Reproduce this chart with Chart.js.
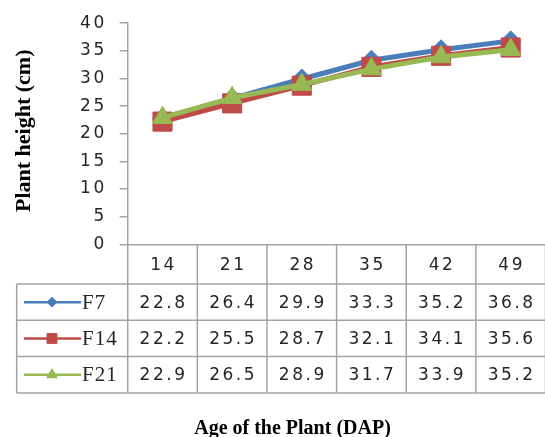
<!DOCTYPE html>
<html>
<head>
<meta charset="utf-8">
<script src="https://cdn.jsdelivr.net/npm/chart.js@4.4.1/dist/chart.umd.min.js"></script>
<style>
  html,body{margin:0;padding:0;background:#fff;overflow:hidden}
  #wrap{position:relative;width:560px;height:437px}
</style>
</head>
<body>
<div id="wrap"><canvas id="plantChart"></canvas></div>
<script>
// data (table under the plot)
const days = ["14","21","28","35","42","49"];
const seriesNames = ["F7","F14","F21"];
const f7  = [22.8,26.4,29.9,33.3,35.2,36.8];
const f14 = [22.2,25.5,28.7,32.1,34.1,35.6];
const f21 = [22.9,26.5,28.9,31.7,33.9,35.2];
const yMin = 0, yMax = 40, yStep = 5;

const GRID = "#a3a3a3";
const INK = "#262626";
const NUM_FONT = "17px 'DejaVu Sans'";
const NUM_SPACING = "2.5px";

// data table + titles drawn under the plot, aligned to the x scale
const dataTable = {
  id: "dataTable",
  beforeDraw(chart){ chart.ctx.letterSpacing = NUM_SPACING; },
  afterDraw(chart){
    const ctx = chart.ctx, a = chart.chartArea, x = chart.scales.x;
    const half = (x.getPixelForValue(1) - x.getPixelForValue(0)) / 2;
    const top = a.bottom, headBot = top + 39.7, rowH = 36.3, left = 16.7;
    const rows = chart.data.datasets;
    const bottom = headBot + rowH * rows.length;

    ctx.save();
    ctx.strokeStyle = GRID; ctx.lineWidth = 1.5;
    ctx.beginPath();
    for (let r = 0; r <= rows.length; r++){
      const y = headBot + r*rowH;
      ctx.moveTo(left, y); ctx.lineTo(chart.width, y);
    }
    ctx.moveTo(left, headBot); ctx.lineTo(left, bottom);
    days.forEach((d,i)=>{
      const xb = x.getPixelForValue(i) - half;
      ctx.moveTo(xb, top); ctx.lineTo(xb, bottom);
      if (i === days.length-1){ ctx.moveTo(xb+2*half, top); ctx.lineTo(xb+2*half, bottom); }
    });
    ctx.stroke();

    // header + values
    ctx.fillStyle = INK; ctx.font = NUM_FONT;
    ctx.textAlign = "center"; ctx.textBaseline = "middle";
    ctx.letterSpacing = NUM_SPACING;
    days.forEach((d,i)=>{
      const cx = x.getPixelForValue(i) + 1;
      ctx.fillText(d, cx, top + 39.7/2 + 1);
      rows.forEach((ds,r)=>{
        ctx.fillText(ds.data[i].toFixed(1), cx, headBot + r*rowH + rowH/2 + 1);
      });
    });

    // legend keys
    rows.forEach((ds,r)=>{
      const cy = headBot + r*rowH + rowH/2;
      ctx.strokeStyle = ds.borderColor; ctx.lineWidth = 2.5;
      ctx.beginPath(); ctx.moveTo(24, cy); ctx.lineTo(81, cy); ctx.stroke();
      ctx.fillStyle = ds.borderColor; ctx.strokeStyle = ds.borderColor; ctx.lineWidth = 1;
      Chart.helpers.drawPoint(ctx, {pointStyle: ds.pointStyle, radius: ds.legendRadius, rotation: 0, borderWidth: 1}, 52, cy);
      ctx.fillStyle = INK; ctx.textAlign = "left";
      ctx.font = "21px 'Liberation Serif'"; ctx.letterSpacing = "1px";
      ctx.fillText(seriesNames[r], 82, cy + 1);
    });

    // axis titles
    ctx.letterSpacing = "0px";
    ctx.fillStyle = "#000"; ctx.textAlign = "center";
    ctx.font = "bold 20px 'Liberation Serif'";
    ctx.textBaseline = "alphabetic";
    ctx.fillText("Age of the Plant (DAP)", 292.5, 434);
    ctx.translate(24, (a.top + a.bottom)/2 - 3);
    ctx.rotate(-Math.PI/2);
    ctx.textBaseline = "middle";
    ctx.font = "bold 22px 'Liberation Serif'";
    ctx.fillText("Plant height (cm)", 0, 0);
    ctx.restore();
  }
};

new Chart(document.getElementById("plantChart"), {
  type: "line",
  data: {
    labels: days,
    datasets: [
      {label: seriesNames[0], data: f7,  borderColor: "#4A7EBB", backgroundColor: "#4A7EBB",
       pointStyle: "rectRot", pointRadius: 10, legendRadius: 5, order: 3},
      {label: seriesNames[1], data: f14, borderColor: "#BE4B48", backgroundColor: "#BE4B48",
       pointStyle: "rect", pointRadius: 13.5, legendRadius: 7, order: 2},
      {label: seriesNames[2], data: f21, borderColor: "#98B954", backgroundColor: "#98B954",
       pointStyle: "triangle", pointRadius: 11.5, legendRadius: 6, order: 1}
    ]
  },
  options: {
    responsive: true, maintainAspectRatio: false, animation: false, events: [],
    layout: {padding: {top: 22.7, right: 4.5, left: 0, bottom: 0}},
    elements: {line: {borderWidth: 5, tension: 0}, point: {borderWidth: 1}},
    plugins: {legend: {display: false}, tooltip: {enabled: false}},
    scales: {
      x: {
        offset: true,
        ticks: {display: false},
        grid: {display: false},
        border: {color: GRID, width: 1.5},
        afterFit(s){ s.height = 192.7; }
      },
      y: {
        min: yMin, max: yMax,
        ticks: {stepSize: yStep, color: INK, font: {family: "DejaVu Sans", size: 17}, padding: 13},
        grid: {drawOnChartArea: false, drawTicks: true, tickLength: 8, color: GRID, lineWidth: 1.5},
        border: {color: GRID, width: 1.5},
        afterFit(s){ s.width = 127.7; }
      }
    }
  },
  plugins: [dataTable]
});
</script>
</body>
</html>
